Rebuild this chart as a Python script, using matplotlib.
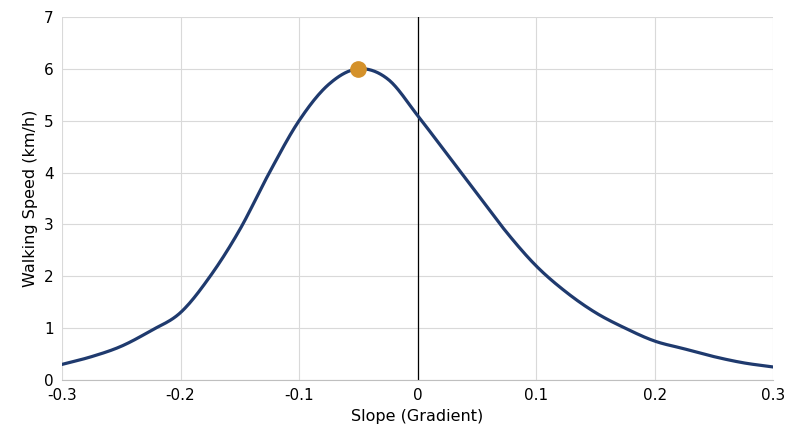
import numpy as np
import matplotlib
matplotlib.use('Agg')
import matplotlib.pyplot as plt

slope = [-0.3, -0.275, -0.25, -0.225, -0.2, -0.175, -0.15, -0.125, -0.1, -0.075,
         -0.05, -0.025, 0.0, 0.025, 0.05, 0.075, 0.1, 0.125, 0.15, 0.175,
         0.2, 0.225, 0.25, 0.275, 0.3]
speed = [0.3, 0.45, 0.65, 0.95, 1.3, 2.0, 2.9, 4.0, 5.0, 5.7,
         6.0, 5.8, 5.1, 4.35, 3.6, 2.85, 2.2, 1.7, 1.3, 1.0,
         0.75, 0.6, 0.45, 0.33, 0.25]
peak_x, peak_y = -0.05, 6.0


def smooth(x, y, n=20):
    # catmull-rom between the read points, like a smoothed spreadsheet line
    x = np.asarray(x); y = np.asarray(y)
    px = np.concatenate([[2 * x[0] - x[1]], x, [2 * x[-1] - x[-2]]])
    py = np.concatenate([[2 * y[0] - y[1]], y, [2 * y[-1] - y[-2]]])
    xs, ys = [], []
    t = np.linspace(0, 1, n, endpoint=False)
    for i in range(1, len(px) - 2):
        for p, out in ((px, xs), (py, ys)):
            p0, p1, p2, p3 = p[i - 1], p[i], p[i + 1], p[i + 2]
            out.extend(0.5 * (2 * p1 + (-p0 + p2) * t + (2 * p0 - 5 * p1 + 4 * p2 - p3) * t ** 2
                              + (-p0 + 3 * p1 - 3 * p2 + p3) * t ** 3))
    xs.append(x[-1]); ys.append(y[-1])
    return xs, ys


fig = plt.figure(figsize=(8, 4.47), dpi=100)
ax = fig.add_axes([0.0775, 0.15, 0.889, 0.812])
sx, sy = smooth(slope, speed)
ax.plot(sx, sy, color='#1F3A6E', lw=2.3, zorder=3)
ax.plot([peak_x], [peak_y], 'o', color='#D4912A', ms=11, zorder=4)
ax.axvline(0, color='black', lw=0.9, zorder=2)

ax.set_xlim(-0.3, 0.3)
ax.set_ylim(0, 7)
ax.set_xticks(np.arange(-0.3, 0.31, 0.1))
ax.set_xticklabels(['-0.3', '-0.2', '-0.1', '0', '0.1', '0.2', '0.3'])
ax.set_yticks(range(8))
ax.grid(True, color='#D9D9D9', lw=0.8)
for s in ['top', 'right', 'left']:
    ax.spines[s].set_visible(False)
ax.spines['bottom'].set_color('#BFBFBF')
ax.tick_params(length=0, labelsize=11, pad=6)
ax.set_xlabel('Slope (Gradient)', fontsize=11.5)
ax.set_ylabel('Walking Speed (km/h)', fontsize=11.5)
fig.savefig('out.png')
